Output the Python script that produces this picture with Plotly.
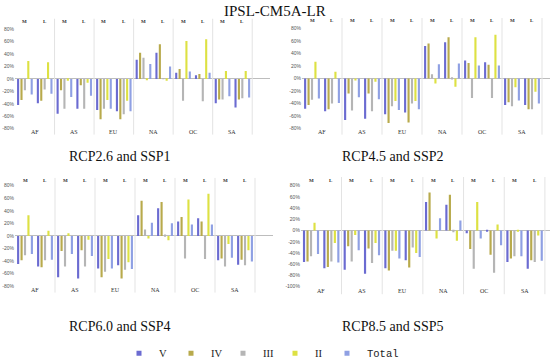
import plotly.graph_objects as go

regions = ["AF", "AS", "EU", "NA", "OC", "SA"]
periods = ["M", "L"]
series_names = ["V", "IV", "III", "II", "Total"]
series_colors = ["#6b6bd1", "#b8aa4c", "#b5b5b5", "#dde143", "#8fa0e3"]
scenarios = ["RCP2.6 and SSP1", "RCP4.5 and SSP2", "RCP6.0 and SSP4", "RCP8.5 and SSP5"]
y_ticks_top = [-80, -60, -40, -20, 0, 20, 40, 60, 80]
y_ticks_bottom_right = [-100, -80, -60, -40, -20, 0, 20, 40, 60, 80]

# values per series, order: AF-M, AF-L, AS-M, AS-L, EU-M, EU-L, NA-M, NA-L, OC-M, OC-L, SA-M, SA-L (%)
rcp26_V = [-42, -39, -56, -48, -50, -52, 31, 42, 10, 6, -39, -46]
rcp26_IV = [-34, -35, -18, -10, -65, -65, 42, 56, 16, 8, -33, -33]
rcp26_III = [-18, -17, -48, -48, -48, -57, 34, 1, -35, -36, -33, -31]
rcp26_II = [29, 27, -3, -6, -34, -35, -2, -3, 61, 64, 13, 13]
rcp26_Total = [-25, -24, -29, -27, -48, -52, 24, 20, 12, 10, -28, -30]

rcp45_V = [-48, -52, -66, -64, -57, -54, 52, 58, 29, 26, -42, -42]
rcp45_IV = [-42, -49, -24, -24, -71, -70, 56, 66, 25, 22, -38, -49]
rcp45_III = [-34, -40, -51, -52, -44, -40, 7, 2, -31, -31, -44, -49]
rcp45_II = [27, 11, -2, -5, -36, -36, -8, -13, 66, 70, -14, -21]
rcp45_Total = [-32, -39, -30, -33, -50, -49, 23, 24, 21, 21, -35, -40]

rcp60_V = [-45, -49, -66, -68, -52, -47, 33, 44, 23, 28, -39, -46]
rcp60_IV = [-39, -50, -24, -23, -66, -68, 56, 54, 30, 23, -36, -38]
rcp60_III = [-31, -39, -49, -49, -57, -54, 10, 2, -36, -37, -49, -47]
rcp60_II = [33, 8, 4, -6, -37, -42, -4, -7, 58, 67, -13, -23]
rcp60_Total = [-29, -38, -29, -32, -52, -53, 21, 20, 18, 18, -35, -41]

rcp85_V = [-56, -67, -70, -77, -67, -53, 51, 46, -5, -1, -56, -68]
rcp85_IV = [-55, -65, -28, -32, -71, -66, 68, 64, -33, -43, -50, -53]
rcp85_III = [-46, -55, -55, -58, -36, -30, 0, -3, -68, -75, -46, -56]
rcp85_II = [14, -22, -8, -22, -36, -40, -14, -18, 51, 11, -2, -9]
rcp85_Total = [-42, -57, -35, -44, -50, -47, 22, 18, -14, -26, -46, -54]

panel_data = [
    [rcp26_V, rcp26_IV, rcp26_III, rcp26_II, rcp26_Total],
    [rcp45_V, rcp45_IV, rcp45_III, rcp45_II, rcp45_Total],
    [rcp60_V, rcp60_IV, rcp60_III, rcp60_II, rcp60_Total],
    [rcp85_V, rcp85_IV, rcp85_III, rcp85_II, rcp85_Total],
]

cats = [f"{r} {p}" for r in regions for p in periods]

W, H = 550, 372  # a few px taller than the window so the legend can sit low


def py(px):
    return 1 - px / H


# layout geometry per panel (pixel positions from the top of the page)
panels = [
    dict(xd=[0.0273, 0.4909], yd=[py(127.7), py(26.7)], xr=[-0.5, 12.4], yr=[-80, 80], ticks=y_ticks_top, top=1.076, bot=-0.03, sx=0.218, sy=py(156)),
    dict(xd=[0.5491, 1.0], yd=[py(127.7), py(26)], xr=[-0.5, 11.9], yr=[-80, 80], ticks=y_ticks_top, top=1.076, bot=-0.03, sx=0.715, sy=py(156)),
    dict(xd=[0.0273, 0.4964], yd=[py(287.7), py(185.7)], xr=[-0.5, 12.4], yr=[-80, 80], ticks=y_ticks_top, top=1.048, bot=-0.035, sx=0.218, sy=py(329)),
    dict(xd=[0.547, 1.0], yd=[py(288.3), py(185.7)], xr=[-0.5, 11.75], yr=[-100, 80], ticks=y_ticks_bottom_right, top=1.056, bot=-0.045, sx=0.715, sy=py(329)),
]

fig = go.Figure()
layout = dict(
    width=W, height=H,
    margin=dict(l=0, r=0, t=0, b=0),
    paper_bgcolor="white", plot_bgcolor="white",
    barmode="group", bargap=0.14, bargroupgap=0.38,
    showlegend=True,
    font=dict(family="Liberation Serif", color="#222"),
)
annotations = []
shapes = []

for pi, p in enumerate(panels):
    n = "" if pi == 0 else str(pi + 1)
    xa, ya = "x" + n, "y" + n
    for si, name in enumerate(series_names):
        fig.add_trace(go.Bar(
            x=cats, y=panel_data[pi][si], name=name,
            marker=dict(color=series_colors[si], line=dict(width=0)),
            xaxis=xa, yaxis=ya, showlegend=False,
        ))
    layout["xaxis" + n] = dict(
        domain=p["xd"], anchor=ya, type="category", categoryorder="array", categoryarray=cats,
        range=p["xr"], showticklabels=False, showgrid=False, zeroline=False, showline=False, ticks="",
    )
    layout["yaxis" + n] = dict(
        domain=p["yd"], anchor=xa, range=p["yr"], tickvals=p["ticks"],
        ticktext=[f"{t}%" for t in p["ticks"]],
        tickfont=dict(size=5, color="#555", family="Liberation Sans"),
        showgrid=False, zeroline=True, zerolinecolor="#bdbdbd", zerolinewidth=1,
        showline=False, ticks="",
    )
    for k in range(len(regions)):
        shapes.append(dict(type="line", xref=xa, yref=ya + " domain",
                           x0=2 * k + 1.5, x1=2 * k + 1.5, y0=p["bot"] - 0.03, y1=p["top"] + 0.03,
                           line=dict(color="#e3e3e3", width=1)))
        annotations.append(dict(xref=xa, yref=ya + " domain", x=2 * k + 0.5, y=p["bot"],
                                text=regions[k], showarrow=False, yanchor="middle",
                                font=dict(size=6, color="#333", family="Liberation Serif")))
        for j, per in enumerate(periods):
            annotations.append(dict(xref=xa, yref=ya + " domain", x=2 * k + j, y=p["top"],
                                    text=f"<b>{per}</b>", showarrow=False, yanchor="middle",
                                    font=dict(size=5, color="#333", family="Liberation Serif")))
    annotations.append(dict(xref="paper", yref="paper", x=p["sx"], y=p["sy"], text=scenarios[pi],
                            showarrow=False, xanchor="center", yanchor="middle",
                            font=dict(size=14, color="#111", family="Liberation Serif")))

annotations.append(dict(xref="paper", yref="paper", x=0.5, y=py(8), text="IPSL-CM5A-LR",
                        showarrow=False, xanchor="center", yanchor="middle",
                        font=dict(size=15, color="#111", family="Liberation Serif")))

# legend entries (small square markers), one legend box per entry for exact spacing
legend_x = [119, 171, 223, 275, 327]
for si, name in enumerate(series_names):
    label = name if name != "Total" else '<span style="font-family:Liberation Mono">Total</span>'
    lname = "legend" if si == 0 else f"legend{si + 1}"
    fig.add_trace(go.Scatter(x=[None], y=[None], mode="markers", name=label,
                             marker=dict(symbol="square", size=5, color=series_colors[si]),
                             xaxis="x", yaxis="y", showlegend=True, legend=lname))
    layout[lname] = dict(orientation="h", x=legend_x[si] / W, y=py(356),
                         xanchor="left", yanchor="middle",
                         font=dict(size=10.5, family="Liberation Serif", color="#222"),
                         itemsizing="trace", bgcolor="rgba(0,0,0,0)", itemwidth=30)

layout["annotations"] = annotations
layout["shapes"] = shapes
fig.update_layout(**layout)
fig.write_html("out.html", config={"displayModeBar": False},
               post_script="document.body.style.margin='0';document.body.style.overflow='hidden';")
